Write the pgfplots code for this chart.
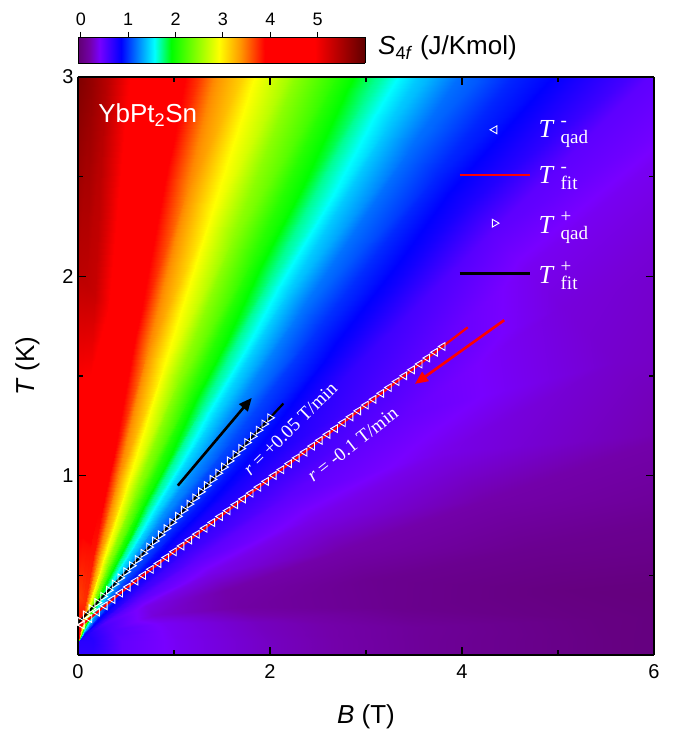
\documentclass[border=0pt]{standalone}
\usepackage{pgfplots}
\pgfplotsset{compat=1.18}
\usepackage{fontspec}
\setmainfont{Liberation Sans}
\newfontfamily\timesfont{Liberation Serif}
\usetikzlibrary{arrows.meta}
\pgfplotsset{/pgf/number format/assume math mode=true,
  colormap={s4f}{rgb255(0pt)=(96,0,112); rgb255(25pt)=(115,0,170); rgb255(45pt)=(120,0,255); rgb255(90pt)=(0,0,255); rgb255(125pt)=(0,128,255); rgb255(160pt)=(0,255,255); rgb255(195pt)=(0,255,0); rgb255(295pt)=(255,255,0); rgb255(340pt)=(255,150,0); rgb255(390pt)=(255,0,0); rgb255(495pt)=(255,0,0); rgb255(600pt)=(96,0,0)}}
\newcommand\TL[2]{\hspace{6pt}\textit{T}\hspace{6pt}\makebox[0pt][l]{\raisebox{11pt}{\fontsize{19}{19}\selectfont #1}}\raisebox{-6pt}{\fontsize{19}{19}\selectfont #2}}
\begin{document}
\begin{tikzpicture}
\useasboundingbox (-78pt,-81pt) rectangle (595pt,655pt);
% colour scale
\begin{axis}[
  name=cb, at={(0pt,592pt)}, anchor=south west,
  view={0}{90}, scale only axis, width=287pt, height=26pt,
  xmin=-0.06, xmax=6, ymin=0, ymax=1,
  xtick={0,1,2,3,4,5}, ytick=\empty, ztick=\empty,
  xtick pos=right, xticklabel pos=right,
  tick align=outside, major tick length=5pt,
  every tick/.style={black, line width=1pt},
  axis line style={line width=0.9pt},
  tick label style={font=\fontsize{18}{18}\selectfont},
  xticklabel style={yshift=3pt},
  colormap name=s4f, point meta min=0, point meta max=6,
]
\addplot3[surf, shader=interp, mesh/cols=2] coordinates {(-0.06,0,0) (6,0,6) (-0.06,1,0) (6,1,6)};
\end{axis}
\begin{axis}[
  name=ax,
  view={0}{90},
  scale only axis, width=576pt, height=578pt,
  xmin=0, xmax=6, ymin=0.1, ymax=3,
  xtick={0,2,4,6}, minor xtick={1,3,5},
  ytick={1,2,3}, minor ytick={0.5,1.5,2.5},
  ztick=\empty,
  xtick pos=both, ytick pos=both,
  tick align=inside,
  major tick length=8pt, minor tick length=5pt,
  every tick/.style={black, line width=1.5pt},
  axis line style={line width=1.6pt},
  xlabel={\textit{B} (T)}, ylabel={\textit{T} (K)},
  xlabel style={at={(axis description cs:0.5,-0.107)}, anchor=center},
  ylabel style={at={(axis description cs:-0.088,0.5)}, anchor=center},
  label style={font=\fontsize{26}{26}\selectfont},
  tick label style={font=\fontsize{20}{20}\selectfont},
  xticklabel style={yshift=-6pt},
  yticklabel style={xshift=-1pt},
  colormap name=s4f,
  point meta min=0, point meta max=6,
  legend style={draw=none, fill=none, at={(0.655,0.932)}, anchor=north west,
    text=white, font=\timesfont\fontsize{26}{26}\selectfont, row sep=23pt},
  legend cell align=left,
  legend image code/.code={\draw[#1] (0pt,0pt) -- (70pt,0pt);},
]
\addplot3[surf, shader=interp, mesh/cols=9, forget plot] table[x=B, y=T, z=S] {
B T S
0 0.17 3.9
0 0.25 3.9
0 0.40 3.7
0 0.70 3.9
0 1.20 4.7
0 2.00 5.4
0 3.00 5.8
0 4.37 5.85
0 6.67 5.85
0 0.17 3.9
0.0039 0.248 3.9
0.0112 0.394 3.7
0.0259 0.687 3.9
0.0502 1.175 4.66
0.0893 1.955 5.37
0.138 2.931 5.65
0.205 4.268 5.65
0.317 6.511 5.65
0 0.17 3.9
0.0076 0.246 3.9
0.0219 0.389 3.7
0.0505 0.675 3.88
0.0981 1.151 4.62
0.174 1.913 5.32
0.270 2.865 5.45
0.400 4.17 5.45
0.619 6.36 5.45
0 0.17 3.9
0.0132 0.243 3.9
0.038 0.381 3.72
0.0875 0.656 3.87
0.170 1.115 4.56
0.302 1.849 5.0
0.467 2.766 5.0
0.694 4.023 5.0
1.073 6.133 5.0
0 0.17 3.9
0.019 0.2405 3.9
0.0547 0.3726 3.74
0.126 0.637 3.86
0.245 1.0775 4.5
0.435 1.782 4.5
0.673 2.663 4.5
0.999 3.87 4.5
1.546 5.897 4.5
0 0.17 3.9
0.0255 0.237 3.9
0.0735 0.363 3.75
0.169 0.615 3.84
0.329 1.036 3.95
0.584 1.708 3.95
0.904 2.548 3.95
1.341 3.699 3.95
2.076 5.632 3.95
0 0.17 3.45
0.032 0.234 3.45
0.092 0.354 3.45
0.212 0.594 3.45
0.412 0.994 3.45
0.732 1.634 3.45
1.132 2.434 3.45
1.68 3.53 3.45
2.6 5.37 3.45
0 0.17 2.95
0.0393 0.2304 2.95
0.1128 0.3436 2.95
0.26 0.57 2.95
0.5053 0.9474 2.95
0.8977 1.551 2.95
1.388 2.306 2.95
2.06 3.34 2.95
3.189 5.076 2.95
0 0.17 2.5
0.0457 0.2271 2.5
0.1314 0.3343 2.5
0.3029 0.5486 2.5
0.5886 0.9057 2.5
1.046 1.477 2.5
1.617 2.191 2.5
2.4 3.17 2.5
3.714 4.813 2.5
0 0.17 2.1
0.0515 0.2242 2.1
0.1481 0.3259 2.1
0.3413 0.5293 2.1
0.6634 0.8683 2.1
1.1787 1.4107 2.1
1.8227 2.0886 2.1
2.705 3.017 2.1
4.187 4.577 2.1
0 0.17 1.75
0.0568 0.2216 1.75
0.1632 0.3184 1.75
0.3761 0.5119 1.75
0.731 0.8345 1.75
1.2987 1.3506 1.75
2.0084 1.9958 1.75
2.9807 2.8797 1.75
4.6129 4.3635 1.75
0 0.17 1.5
0.0615 0.2192 1.5
0.1769 0.3115 1.5
0.4077 0.4962 1.5
0.7923 0.8038 1.5
1.4077 1.2962 1.49
2.1769 1.9115 1.46
3.2308 2.7546 1.45
5.0 4.17 1.45
0 0.17 1.3
0.0659 0.2171 1.3
0.1894 0.3053 1.3
0.4365 0.4818 1.3
0.8482 0.7759 1.3
1.5071 1.2465 1.29
2.3306 1.8347 1.22
3.4588 2.6406 1.2
5.3529 3.9935 1.2
0 0.17 1.1
0.0711 0.2144 1.1
0.2044 0.2978 1.1
0.4711 0.4644 1.1
0.9156 0.7422 1.1
1.6267 1.1867 1.1
2.5156 1.7422 1.03
3.7333 2.5033 1.0
5.7778 3.7811 1.0
0 0.17 0.95
0.0769 0.2116 0.95
0.2210 0.2895 0.95
0.5094 0.4453 0.95
0.9899 0.7051 0.95
1.7587 1.1206 0.95
2.7197 1.6401 0.87
4.0364 2.3518 0.8
6.2468 3.5466 0.8
0 0.17 0.82
0.0820 0.209 0.82
0.2356 0.2822 0.82
0.5429 0.4285 0.82
1.0551 0.6724 0.82
1.8746 1.0627 0.82
2.899 1.5505 0.70
4.3024 2.2188 0.55
6.6585 3.3407 0.55
0 0.17 0.8
0.0889 0.2056 0.8
0.2556 0.2722 0.68
0.5889 0.4056 0.68
1.1444 0.6278 0.68
2.0333 0.9833 0.68
3.1444 1.4278 0.61
4.6667 2.0367 0.42
7.2222 3.0589 0.42
0 0.17 0.78
0.096 0.202 0.78
0.276 0.262 0.6
0.636 0.382 0.55
1.236 0.582 0.55
2.196 0.902 0.55
3.396 1.302 0.52
5.04 1.85 0.37
7.8 2.77 0.33
0 0.17 0.77
0.1067 0.1967 0.77
0.3067 0.2467 0.61
0.7067 0.3467 0.4
1.3733 0.5133 0.4
2.44 0.78 0.4
3.7733 1.1133 0.4
5.6 1.57 0.33
8.6667 2.3367 0.24
0 0.17 0.76
0.12 0.19 0.76
0.345 0.2275 0.59
0.795 0.3025 0.36
1.545 0.4275 0.25
2.745 0.6275 0.25
4.245 0.8775 0.25
6.3 1.22 0.25
9.75 1.795 0.18
0 0.17 0.76
0.133 0.1833 0.76
0.383 0.2083 0.57
0.883 0.2583 0.43
1.717 0.3417 0.22
3.05 0.475 0.14
4.717 0.6417 0.14
7.0 0.87 0.14
10.833 1.2533 0.14
0 0.17 0.75
0.1455 0.1773 0.75
0.4182 0.1909 0.55
0.9636 0.2182 0.43
1.8727 0.2636 0.3
3.3273 0.3364 0.13
5.1455 0.4273 0.07
7.636 0.5518 0.07
11.818 0.7609 0.07
0 0.17 0.75
0.1538 0.1731 0.75
0.4423 0.1788 0.54
1.0192 0.1904 0.42
1.9808 0.2096 0.3
3.5192 0.2404 0.18
5.4423 0.2788 0.08
8.077 0.3315 0.03
12.5 0.42 0.02
0 0.17 0.75
0.16 0.17 0.75
0.46 0.17 0.53
1.06 0.17 0.42
2.06 0.17 0.3
3.66 0.17 0.17
5.66 0.17 0.075
8.4 0.17 0.02
13 0.17 0.02
0 0.05 0.7
0.16 0.05 0.7
0.46 0.05 0.53
1.06 0.05 0.42
2.06 0.05 0.3
3.66 0.05 0.17
5.66 0.05 0.075
8.4 0.05 0.02
13 0.05 0.02
};
% T^- qad (lower series)
\addplot3[only marks, mark=triangle, mark size=4.5pt, mark options={draw=white, fill=none, line width=0.9pt, rotate=90},
  legend image code/.code={\draw[white, line width=0.9pt] (30.5pt,0pt) -- (37.25pt,3.9pt) -- (37.25pt,-3.9pt) -- cycle;}] coordinates {
(0.04,0.251,0) (0.12,0.283,0) (0.20,0.315,0) (0.28,0.347,0) (0.36,0.379,0) (0.44,0.411,0)
(0.52,0.441,0) (0.60,0.471,0) (0.68,0.500,0) (0.76,0.530,0) (0.84,0.559,0) (0.92,0.589,0)
(1.00,0.618,0) (1.08,0.647,0) (1.16,0.677,0) (1.24,0.706,0) (1.32,0.736,0) (1.40,0.765,0)
(1.48,0.795,0) (1.56,0.824,0) (1.64,0.854,0) (1.72,0.883,0) (1.80,0.912,0) (1.88,0.942,0)
(1.96,0.971,0) (2.04,1.001,0) (2.12,1.030,0) (2.20,1.060,0) (2.28,1.089,0) (2.36,1.118,0)
(2.44,1.148,0) (2.52,1.177,0) (2.60,1.207,0) (2.68,1.236,0) (2.76,1.266,0) (2.84,1.295,0)
(2.92,1.325,0) (3.00,1.354,0) (3.08,1.383,0) (3.16,1.413,0) (3.24,1.442,0) (3.32,1.472,0)
(3.40,1.501,0) (3.48,1.531,0) (3.56,1.560,0) (3.64,1.590,0) (3.72,1.619,0) (3.80,1.648,0)};
\addlegendentry{\TL{-}{qad}}
% T^- fit
\addplot3[red, line width=2.2pt] coordinates {(0,0.235,0) (0.5,0.434,0) (4.06,1.744,0)};
\addlegendentry{\TL{-}{fit}}
% T^+ qad (upper series)
\addplot3[only marks, mark=triangle, mark size=4.5pt, mark options={draw=white, fill=none, line width=0.9pt, rotate=-90},
  legend image code/.code={\draw[white, line width=0.9pt] (39.5pt,0pt) -- (32.75pt,3.9pt) -- (32.75pt,-3.9pt) -- cycle;}] coordinates {
(0.02,0.270,0) (0.08,0.301,0) (0.14,0.332,0) (0.20,0.363,0) (0.26,0.394,0) (0.32,0.425,0)
(0.38,0.456,0) (0.44,0.487,0) (0.50,0.518,0) (0.56,0.548,0) (0.62,0.579,0) (0.68,0.610,0)
(0.74,0.641,0) (0.80,0.672,0) (0.86,0.703,0) (0.92,0.734,0) (0.98,0.765,0) (1.04,0.796,0)
(1.10,0.827,0) (1.16,0.857,0) (1.22,0.888,0) (1.28,0.919,0) (1.34,0.950,0) (1.40,0.981,0)
(1.46,1.012,0) (1.52,1.043,0) (1.58,1.074,0) (1.64,1.105,0) (1.70,1.136,0) (1.76,1.166,0)
(1.82,1.197,0) (1.88,1.228,0) (1.94,1.259,0) (2.00,1.290,0)};
\addlegendentry{\TL{+}{qad}}
% T^+ fit
\addplot3[black, line width=2.2pt] coordinates {(0,0.26,0) (2.14,1.362,0)};
\addlegendentry{\TL{+}{fit}}
% arrows
\addplot3[forget plot, black, line width=2.6pt, -{Triangle[length=13pt,width=11pt]}] coordinates {(1.04,0.95,0) (1.81,1.39,0)};
\addplot3[forget plot, red, line width=2.6pt, -{Triangle[length=13pt,width=11pt]}] coordinates {(4.44,1.78,0) (3.51,1.46,0)};
\node[anchor=base west, text=white, font=\fontsize{26}{26}\selectfont, inner sep=0pt] at (axis cs:0.21,2.774,0) {YbPt\textsubscript{2}Sn};
\node[text=white, rotate=44.5, font=\timesfont\fontsize{19}{19}\selectfont, inner sep=0pt] at (axis cs:2.21,1.236,0) {\textit{r} = +0.05 T/min};
\node[text=white, rotate=38, font=\timesfont\fontsize{19}{19}\selectfont, inner sep=0pt] at (axis cs:2.86,1.156,0) {\textit{r} = -0.1 T/min};
\end{axis}
\node[anchor=west, font=\fontsize{26}{26}\selectfont, inner sep=0pt] at (300pt,607pt) {\textit{S}\textsubscript{4\textit{f}} (J/Kmol)};
\end{tikzpicture}
\end{document}
